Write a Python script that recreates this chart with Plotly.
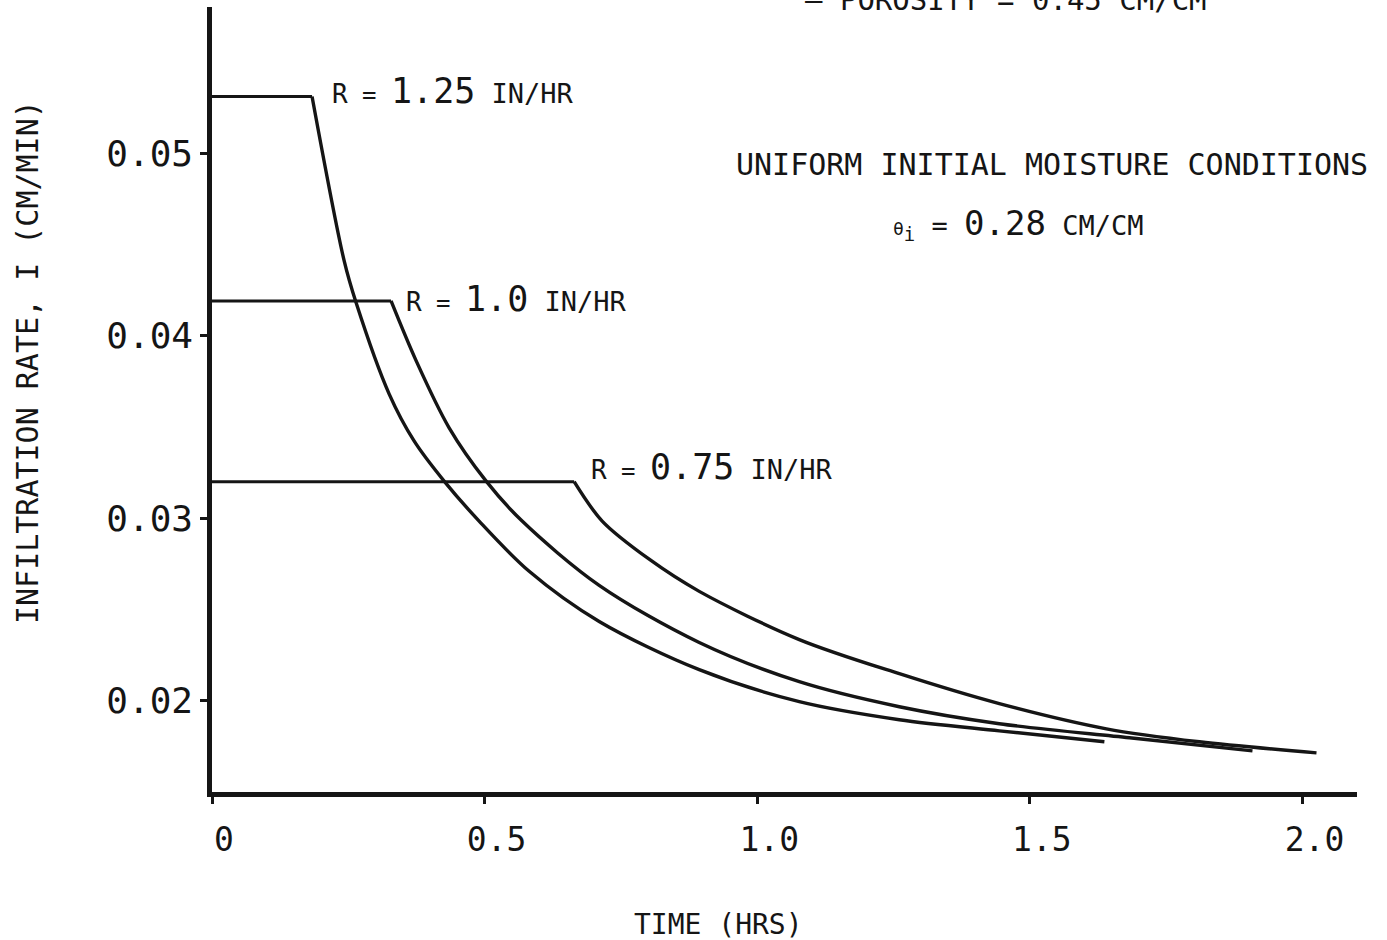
import plotly.graph_objects as go

# ---- data ----
t_125 = [0.0, 0.1835, 0.2422, 0.2642, 0.3248, 0.3706, 0.4257, 0.4899, 0.5817, 0.7101, 0.8936,
         1.0771, 1.2606, 1.4440, 1.6367]
i_125 = [0.0531, 0.0531, 0.04412, 0.04181, 0.03681, 0.03423, 0.03203, 0.02984, 0.02709, 0.02434,
         0.02170, 0.01995, 0.01896, 0.01835, 0.01775]

t_100 = [0.0, 0.3284, 0.3743, 0.4349, 0.5028, 0.5688, 0.7101, 0.8936, 1.0771, 1.2606, 1.4440,
         1.6826, 1.9083]
i_100 = [0.0419, 0.0419, 0.03863, 0.03495, 0.03203, 0.02984, 0.02632, 0.02319, 0.02104, 0.01967,
         0.01874, 0.01797, 0.01725]

t_075 = [0.0, 0.6642, 0.7156, 0.8018, 0.8936, 1.0771, 1.2606, 1.4440, 1.6404, 1.8110, 2.0257]
i_075 = [0.0320, 0.0320, 0.02984, 0.02775, 0.02599, 0.02335, 0.02148, 0.01984, 0.01846, 0.01775,
         0.01714]

x_ticks = [0, 0.5, 1.0, 1.5, 2.0]
x_ticklabels = ["0", "0.5", "1.0", "1.5", "2.0"]
y_ticks = [0.02, 0.03, 0.04, 0.05]
y_ticklabels = ["0.02", "0.03", "0.04", "0.05"]

FONT = "DejaVu Sans Mono, Liberation Mono, monospace"
INK = "#151515"

fig = go.Figure()
for t, i in [(t_125, i_125), (t_100, i_100), (t_075, i_075)]:
    # constant rate part before ponding
    fig.add_trace(go.Scatter(x=t[:2], y=i[:2], mode="lines",
                             line=dict(color=INK, width=3),
                             showlegend=False, hoverinfo="skip"))
    # decay after ponding
    fig.add_trace(go.Scatter(x=t[1:], y=i[1:], mode="lines",
                             line=dict(color=INK, width=3.4, shape="spline", smoothing=0.9),
                             showlegend=False, hoverinfo="skip"))

fig.update_layout(
    width=1387, height=940,
    margin=dict(l=212, r=30, t=7, b=148),
    paper_bgcolor="white", plot_bgcolor="white",
    font=dict(family=FONT, color=INK),
    showlegend=False,
)
fig.update_xaxes(
    range=[0, 2.1], tickvals=x_ticks, ticktext=x_ticklabels,
    showgrid=False, zeroline=False,
    showline=True, linewidth=4.5, linecolor=INK,
    ticks="outside", ticklen=7, tickwidth=3, tickcolor=INK,
    tickfont=dict(size=33, family=FONT, color=INK),
    ticklabelshift=12, ticklabelstandoff=8,
)
fig.update_yaxes(
    range=[0.015, 0.058], tickvals=y_ticks, ticktext=y_ticklabels,
    showgrid=False, zeroline=False,
    showline=True, linewidth=4.5, linecolor=INK,
    ticks="outside", ticklen=7, tickwidth=3, tickcolor=INK,
    tickfont=dict(size=36, family=FONT, color=INK),
    ticklabelstandoff=0,
)

def rlabel(val):
    return ("<span style='font-size:26px'>R</span>"
            "<span style='font-size:24px'> = </span>"
            f"<span style='font-size:35px'>{val}</span>"
            "<span style='font-size:27px'> IN/HR</span>")

anns = [
    dict(x=0.2165, y=0.0534, text=rlabel("1.25")),
    dict(x=0.3523, y=0.0420, text=rlabel("1.0")),
    dict(x=0.6908, y=0.0328, text=rlabel("0.75")),
]
for a in anns:
    fig.add_annotation(xref="x", yref="y", showarrow=False, xanchor="left", yanchor="middle",
                       font=dict(family=FONT, color=INK), **a)

# paper-pixel helpers: plot area x 212..1357, y 7..792
def px(xp):
    return (xp - 212) / (1357 - 212)

def py(yp):
    return (792 - yp) / (792 - 7)

fig.add_annotation(xref="paper", yref="paper", x=px(1052), y=py(165), xanchor="center",
                   yanchor="middle", showarrow=False,
                   text="UNIFORM INITIAL MOISTURE CONDITIONS",
                   font=dict(family=FONT, size=30, color=INK))
fig.add_annotation(xref="paper", yref="paper", x=px(1018), y=py(224), xanchor="center",
                   yanchor="middle", showarrow=False,
                   text=("<span style='font-size:18px'>θ</span><sub>i</sub> = "
                         "<span style='font-size:34px'>0.28</span> CM/CM"),
                   font=dict(family=FONT, size=27, color=INK))
fig.add_annotation(xref="paper", yref="paper", x=px(1006), y=py(0), xanchor="center",
                   yanchor="middle", showarrow=False,
                   text="— POROSITY = 0.45 CM/CM",
                   font=dict(family=FONT, size=29, color=INK))

fig.add_annotation(xref="paper", yref="paper", x=px(718), y=py(924),
                   xanchor="center", yanchor="middle", showarrow=False,
                   text="TIME (HRS)",
                   font=dict(family=FONT, size=28, color=INK))
fig.add_annotation(xref="paper", yref="paper", x=px(27), y=py(362),
                   xanchor="center", yanchor="middle", showarrow=False, textangle=-90,
                   text="INFILTRATION RATE, I (CM/MIN)",
                   font=dict(family=FONT, size=30, color=INK))

fig.write_html("out.html")
